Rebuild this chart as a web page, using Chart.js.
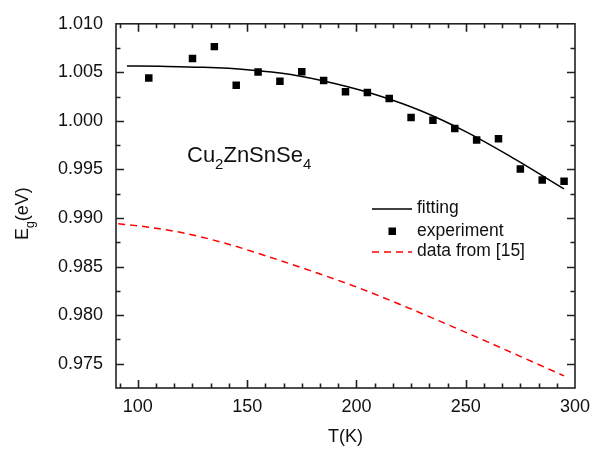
<!DOCTYPE html>
<html>
<head>
<meta charset="utf-8">
<script src="https://cdn.jsdelivr.net/npm/chart.js@4"></script>
<style>body{margin:0;background:#fff}</style>
</head>
<body>
<canvas id="egChart" width="606" height="450"></canvas>
<script>
// experiment points (T in K, Eg in eV)
const expT = [105, 125, 135, 145, 155, 165, 175, 185, 195, 205, 215, 225, 235, 245, 255, 265, 275, 285, 295];
const expEg = [1.00443, 1.00643, 1.00765, 1.00367, 1.00504, 1.00408, 1.00507, 1.00415, 1.0030, 1.00293,
	1.00232, 1.00035, 1.00007, 0.99922, 0.99803, 0.99816, 0.99504, 0.99392, 0.99378];

// fitting curve
const fitT = [95, 110, 130, 150, 170, 190, 210, 230, 250, 270, 295];
const fitEg = [1.00566, 1.00562, 1.00552, 1.00528, 1.00478, 1.00385, 1.00262, 1.0010, 0.9989, 0.9964, 0.9930];

// data from [15]
const refT = [91, 100, 120, 140, 160, 180, 200, 220, 240, 260, 280, 295];
const refEg = [0.9894, 0.9892, 0.9885, 0.9874, 0.9860, 0.9845, 0.9829, 0.9811, 0.9792, 0.97725, 0.97525, 0.97375];

const xTicks = [100, 150, 200, 250, 300];
const yTicks = [0.975, 0.980, 0.985, 0.990, 0.995, 1.000, 1.005, 1.010];

const FONT = "'Liberation Sans', Arial, sans-serif";
const AXIS = "#222";

const toXY = (xs, ys) => xs.map((v, i) => ({ x: v, y: ys[i] }));

// write text with subscripts, parts like [["Cu"], ["2", true]]
function richText(c, parts, x, y, size) {
	let cx = x;
	parts.forEach(([t, sub]) => {
		const s = sub ? size * 0.68 : size;
		c.font = s + "px " + FONT;
		c.fillText(t, cx, sub ? y + size * 0.32 : y);
		cx += c.measureText(t).width;
	});
}

const framePlugin = {
	id: "frame",
	afterDraw(chart) {
		const c = chart.ctx;
		const { left, right, top, bottom } = chart.chartArea;
		const x = chart.scales.x;
		const y = chart.scales.y;
		c.save();
		c.strokeStyle = AXIS;
		c.lineWidth = 1.6;
		c.beginPath();
		// x ticks, major + 5 minor between
		for (let v = xTicks[0] - 50 / 6; v <= 300.01; v += 50 / 6) {
			const major = xTicks.some((t) => Math.abs(t - v) < 0.01);
			const len = major ? 8 : 4.5;
			const px = Math.round(x.getPixelForValue(v)) + 0.5;
			if (px < left + 1 || px > right - 1) continue;
			c.moveTo(px, bottom); c.lineTo(px, bottom - len);
			c.moveTo(px, top); c.lineTo(px, top + len);
		}
		for (let v = 0.9725; v <= 1.0101; v += 0.0025) {
			const major = yTicks.some((t) => Math.abs(t - v) < 1e-6);
			const len = major ? 8 : 4.5;
			const py = Math.round(y.getPixelForValue(v)) + 0.5;
			if (py < top + 1 || py > bottom - 1) continue;
			c.moveTo(left, py); c.lineTo(left + len, py);
			c.moveTo(right, py); c.lineTo(right - len, py);
		}
		c.stroke();
		c.strokeRect(left, top, right - left, bottom - top);

		c.fillStyle = "#111";
		c.textBaseline = "alphabetic";
		// axis titles
		c.font = "18px " + FONT;
		c.textAlign = "center";
		c.fillText("T(K)", (left + right) / 2, 442);
		c.textAlign = "left";
		c.save();
		c.translate(28, 240);
		c.rotate(-Math.PI / 2);
		richText(c, [["E"], ["g", true], ["(eV)"]], 0, 0, 18);
		c.restore();

		// compound label
		richText(c, [["Cu"], ["2", true], ["ZnSnSe"], ["4", true]], 187, 162, 22);

		// legend
		c.lineWidth = 1.5;
		c.strokeStyle = "#000";
		c.beginPath(); c.moveTo(372, 209); c.lineTo(412, 209); c.stroke();
		c.fillStyle = "#000";
		c.fillRect(388.5, 227.5, 7.5, 7.5);
		c.strokeStyle = "#ff0000";
		c.setLineDash([7, 5]);
		c.beginPath(); c.moveTo(372, 252); c.lineTo(412, 252); c.stroke();
		c.setLineDash([]);
		c.fillStyle = "#111";
		c.font = "17.5px " + FONT;
		c.textBaseline = "middle";
		c.fillText("fitting", 417, 208);
		c.fillText("experiment", 417, 231);
		c.fillText("data from [15]", 417, 251);
		c.restore();
	},
};

new Chart(document.getElementById("egChart"), {
	type: "scatter",
	data: {
		datasets: [
			{
				label: "fitting",
				data: toXY(fitT, fitEg),
				showLine: true,
				borderColor: "#000",
				borderWidth: 1.5,
				pointRadius: 0,
				cubicInterpolationMode: "monotone",
			},
			{
				label: "experiment",
				data: toXY(expT, expEg),
				pointStyle: "rect",
				pointRadius: 5.3,
				pointBorderWidth: 0,
				backgroundColor: "#000",
				borderColor: "#000",
			},
			{
				label: "data from [15]",
				data: toXY(refT, refEg),
				showLine: true,
				borderColor: "#ff0000",
				borderWidth: 1.5,
				borderDash: [7, 5],
				pointRadius: 0,
				cubicInterpolationMode: "monotone",
			},
		],
	},
	options: {
		responsive: false,
		animation: false,
		layout: { padding: { top: 19, right: 31, left: 0, bottom: 0 } },
		plugins: { legend: { display: false }, tooltip: { enabled: false } },
		scales: {
			x: {
				type: "linear",
				min: 90,
				max: 300,
				grid: { display: false, drawTicks: false },
				border: { display: false },
				afterFit: (s) => { s.height = 62; },
				afterBuildTicks: (s) => { s.ticks = xTicks.map((v) => ({ value: v })); },
				ticks: { padding: 8, color: "#111", font: { family: FONT, size: 18 } },
			},
			y: {
				type: "linear",
				min: 0.9725,
				max: 1.010,
				grid: { display: false, drawTicks: false },
				border: { display: false },
				afterFit: (s) => { s.width = 116; },
				afterBuildTicks: (s) => { s.ticks = yTicks.map((v) => ({ value: v })); },
				ticks: {
					padding: 13,
					color: "#111",
					font: { family: FONT, size: 18 },
					callback: (v) => v.toFixed(3),
				},
			},
		},
	},
	plugins: [framePlugin],
});
</script>
</body>
</html>
